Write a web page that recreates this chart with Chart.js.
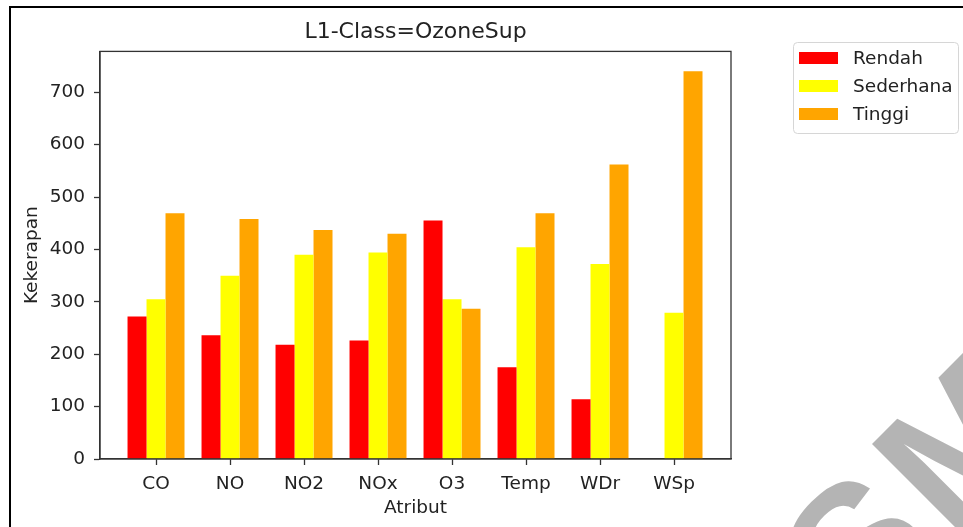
<!DOCTYPE html>
<html>
<head>
<meta charset="utf-8">
<script src="https://cdn.jsdelivr.net/npm/chart.js@4"></script>
<style>
  html, body { margin: 0; padding: 0; background: #fff; }
</style>
</head>
<body>
<canvas id="myChart" width="963" height="527"></canvas>
<script>
const categories = ['CO', 'NO', 'NO2', 'NOx', 'O3', 'Temp', 'WDr', 'WSp'];
const rendah = [272, 236, 218, 226, 455, 175, 114, 0];
const sederhana = [305, 350, 390, 394, 305, 404, 372, 279];
const tinggi = [469, 458, 437, 430, 287, 469, 562, 740];
const yTicks = [0, 100, 200, 300, 400, 500, 600, 700];

const FONT = 'DejaVu Sans';
const TXT = '#222';
const AXIS = '#333';

// bars sit on a linear x scale so the spacing matches the original plot
const toPoints = vals => vals.map((v, i) => ({ x: i, y: v }));

const decor = {
    id: 'decor',
    beforeDraw(chart) {
        const ctx = chart.ctx;
        ctx.save();
        ctx.fillStyle = '#fff';
        ctx.fillRect(0, 0, chart.width, chart.height);
        // page frame of the screenshot
        ctx.fillStyle = '#000';
        ctx.fillRect(9, 6, 2, chart.height);
        ctx.fillRect(9, 6, chart.width, 2);
        ctx.restore();
    },
    afterDraw(chart) {
        const ctx = chart.ctx;
        const a = chart.chartArea;
        ctx.save();
        // top and right spines
        ctx.strokeStyle = AXIS;
        ctx.lineWidth = 1.3;
        ctx.strokeRect(a.left, a.top, a.right - a.left, a.bottom - a.top);

        // legend box
        const lx = 793, ly = 42, lw = 165, lh = 91;
        ctx.beginPath();
        ctx.roundRect(lx + 0.5, ly + 0.5, lw, lh, 4);
        ctx.fillStyle = 'rgba(255,255,255,0.8)';
        ctx.fill();
        ctx.strokeStyle = '#d6d6d6';
        ctx.lineWidth = 1;
        ctx.stroke();
        ctx.font = '18.5px "' + FONT + '"';
        ctx.textBaseline = 'middle';
        chart.data.datasets.forEach((ds, i) => {
            const cy = 58 + i * 28;
            ctx.fillStyle = ds.backgroundColor;
            ctx.fillRect(799, cy - 6, 39, 12);
            ctx.fillStyle = TXT;
            ctx.fillText(ds.label, 853, cy + 1);
        });

        // watermark remnant
        ctx.translate(866, 630);
        ctx.rotate(-Math.PI / 4);
        ctx.font = 'bold 185px "Liberation Sans"';
        ctx.fillStyle = '#b4b4b4';
        ctx.textBaseline = 'alphabetic';
        ctx.fillText('S', -10, 0);
        ctx.fillText('M', ctx.measureText('S').width, 0);
        ctx.restore();
    }
};

const data = {
    datasets: [{
        label: 'Rendah',
        backgroundColor: '#ff0000',
        data: toPoints(rendah)
    }, {
        label: 'Sederhana',
        backgroundColor: '#ffff00',
        data: toPoints(sederhana)
    }, {
        label: 'Tinggi',
        backgroundColor: '#ffa500',
        data: toPoints(tinggi)
    }]
};

const config = {
    type: 'bar',
    data: data,
    options: {
        responsive: false,
        animation: false,
        layout: { padding: { left: 0, right: 232, top: 0, bottom: 0 } },
        datasets: { bar: { categoryPercentage: 0.77, barPercentage: 1.0, borderWidth: 0 } },
        scales: {
            x: {
                type: 'linear',
                min: -0.757,
                max: 7.77,
                offset: false,
                afterBuildTicks: ax => { ax.ticks = categories.map((c, i) => ({ value: i })); },
                afterFit: ax => { ax.height = 68; },
                ticks: {
                    callback: v => categories[v],
                    color: TXT,
                    font: { family: FONT, size: 18.5 },
                    padding: 8,
                    autoSkip: false,
                    maxRotation: 0
                },
                grid: { display: true, offset: false, drawOnChartArea: false, tickLength: 6, color: AXIS, tickWidth: 1.3 },
                border: { color: AXIS, width: 1.3 },
                title: {
                    display: true, text: 'Atribut', color: TXT,
                    font: { family: FONT, size: 18.5 },
                    padding: { top: 0, bottom: 8 }
                }
            },
            y: {
                min: 0,
                max: 778,
                afterBuildTicks: ax => { ax.ticks = yTicks.map(v => ({ value: v })); },
                afterFit: ax => { ax.width = 100; },
                ticks: {
                    color: TXT,
                    font: { family: FONT, size: 18.5 },
                    padding: 9
                },
                grid: { display: true, drawOnChartArea: false, tickLength: 6, color: AXIS, tickWidth: 1.3 },
                border: { color: AXIS, width: 1.3 },
                title: {
                    display: true, text: 'Kekerapan', color: TXT,
                    font: { family: FONT, size: 18.5 },
                    padding: { top: 21, bottom: 0 }
                }
            }
        },
        plugins: {
            legend: { display: false },
            tooltip: { enabled: false },
            title: {
                display: true,
                text: 'L1-Class=OzoneSup',
                fullSize: false,
                color: TXT,
                font: { family: FONT, size: 22, weight: 'normal' },
                padding: { top: 19, bottom: 6 }
            }
        }
    },
    plugins: [decor]
};

var myChart = new Chart(document.getElementById('myChart'), config);
</script>
</body>
</html>
